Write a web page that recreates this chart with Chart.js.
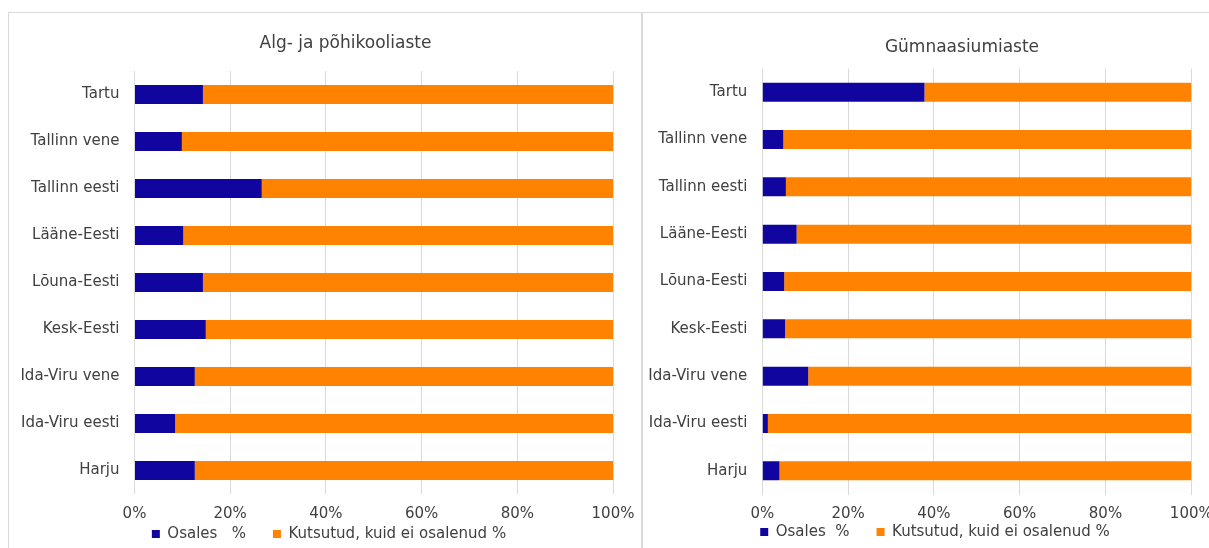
<!DOCTYPE html>
<html><head><meta charset="utf-8">
<script src="https://cdn.jsdelivr.net/npm/chart.js@4.4.1/dist/chart.umd.min.js"></script>
<style>
html,body{margin:0;padding:0;background:#fff;overflow:hidden;width:1209px;height:548px;}
.panel{position:absolute;border:1px solid #d9d9d9;box-sizing:border-box;}
canvas{position:absolute;}
</style></head><body>
<div class="panel" style="left:8px;top:12px;width:634px;height:560px"></div>
<div class="panel" style="left:642px;top:12px;width:600px;height:560px"></div>
<canvas id="c1" width="660" height="563" style="left:9px;top:13px"></canvas>
<canvas id="c2" width="620" height="564" style="left:643px;top:13px"></canvas>
<script>
// ---- data ----
const regions = ['Tartu','Tallinn vene','Tallinn eesti','Lääne-Eesti','Lõuna-Eesti','Kesk-Eesti','Ida-Viru vene','Ida-Viru eesti','Harju'];
const basicParticipated = [14.3, 9.9, 26.6, 10.2, 14.3, 14.9, 12.6, 8.5, 12.6];
const basicInvitedNot   = [85.7, 90.1, 73.4, 89.8, 85.7, 85.1, 87.4, 91.5, 87.4];
const upperParticipated = [37.8, 4.9, 5.5, 8.0, 5.1, 5.3, 10.7, 1.3, 4.0];
const upperInvitedNot   = [62.2, 95.1, 94.5, 92.0, 94.9, 94.7, 89.3, 98.7, 96.0];
const xTickValues = [0, 20, 40, 60, 80, 100];
const titles = ['Alg- ja põhikooliaste', 'Gümnaasiumiaste'];
const seriesNamesLeft  = ['Osales   %', 'Kutsutud, kuid ei osalenud %'];
const seriesNamesRight = ['Osales  %', 'Kutsutud, kuid ei osalenud %'];

Chart.defaults.font.family = "'DejaVu Sans', sans-serif";
Chart.defaults.color = '#404040';

const BLUE = '#10069F', ORANGE = '#FF8200', GRID = '#d9d9d9', TXT = '#404040';

function makeChart(id, title, partData, notData, names, g) {
  const placePlugin = {
    id: 'placeBoxes',
    afterLayout(chart) {
      const tb = chart.titleBlock;
      if (tb) { const dx = g.titleCx - (tb.left + tb.right) / 2; tb.left += dx; tb.right += dx; }
      const lg = chart.legend;
      if (lg) {
        const dx = g.legendCx - (lg.left + lg.right) / 2; lg.left += dx; lg.right += dx;
        const h = lg.bottom - lg.top; lg.top = g.legendTop; lg.bottom = g.legendTop + h;
      }
    }
  };
  return new Chart(document.getElementById(id), {
    type: 'bar',
    data: {
      labels: regions,
      datasets: [
        { label: names[0], data: partData, backgroundColor: BLUE, borderWidth: 0,
          barPercentage: 0.4, categoryPercentage: 1.0 },
        { label: names[1], data: notData, backgroundColor: ORANGE, borderWidth: 0,
          barPercentage: 0.4, categoryPercentage: 1.0 }
      ]
    },
    options: {
      indexAxis: 'y',
      responsive: false,
      animation: false,
      layout: { padding: { left: 0, right: g.R, top: 0, bottom: g.pb } },
      scales: {
        x: {
          stacked: true, min: 0, max: 100,
          afterBuildTicks: (axis) => { axis.ticks = xTickValues.map(v => ({ value: v })); },
          afterFit: (axis) => { axis.height = 30; },
          grid: { color: GRID, lineWidth: 1, drawTicks: false },
          border: { display: false },
          ticks: { maxRotation: 0, padding: g.xPad, color: TXT, font: { size: 15 },
                   callback: (v) => v + '%' }
        },
        y: {
          stacked: true,
          afterFit: (axis) => { axis.width = g.yW; },
          grid: { display: false },
          border: { display: false },
          ticks: { padding: 7, color: TXT, font: { size: 15 } }
        }
      },
      plugins: {
        title: { display: true, text: title, color: TXT,
                 font: { size: 17, weight: 'normal' },
                 padding: { top: g.tTop, bottom: g.tBot } },
        legend: { display: true, position: 'bottom',
                  labels: { boxWidth: 8, boxHeight: 8, padding: 27, color: TXT, font: { size: 15 } } },
        tooltip: { enabled: false }
      }
    },
    plugins: [placePlugin]
  });
}

makeChart('c1', titles[0], basicParticipated, basicInvitedNot, seriesNamesLeft,
  { R: 56, pb: 0, yW: 125.5, xPad: 11.5, tTop: 20.8, tBot: 16.8,
    titleCx: 336.5, legendCx: 320, legendTop: 486.5 });
makeChart('c2', titles[1], upperParticipated, upperInvitedNot, seriesNamesRight,
  { R: 71.7, pb: 0.5, yW: 119.3, xPad: 10.5, tTop: 24.8, tBot: 10.3,
    titleCx: 319, legendCx: 292, legendTop: 484.5 });
</script>
</body></html>
